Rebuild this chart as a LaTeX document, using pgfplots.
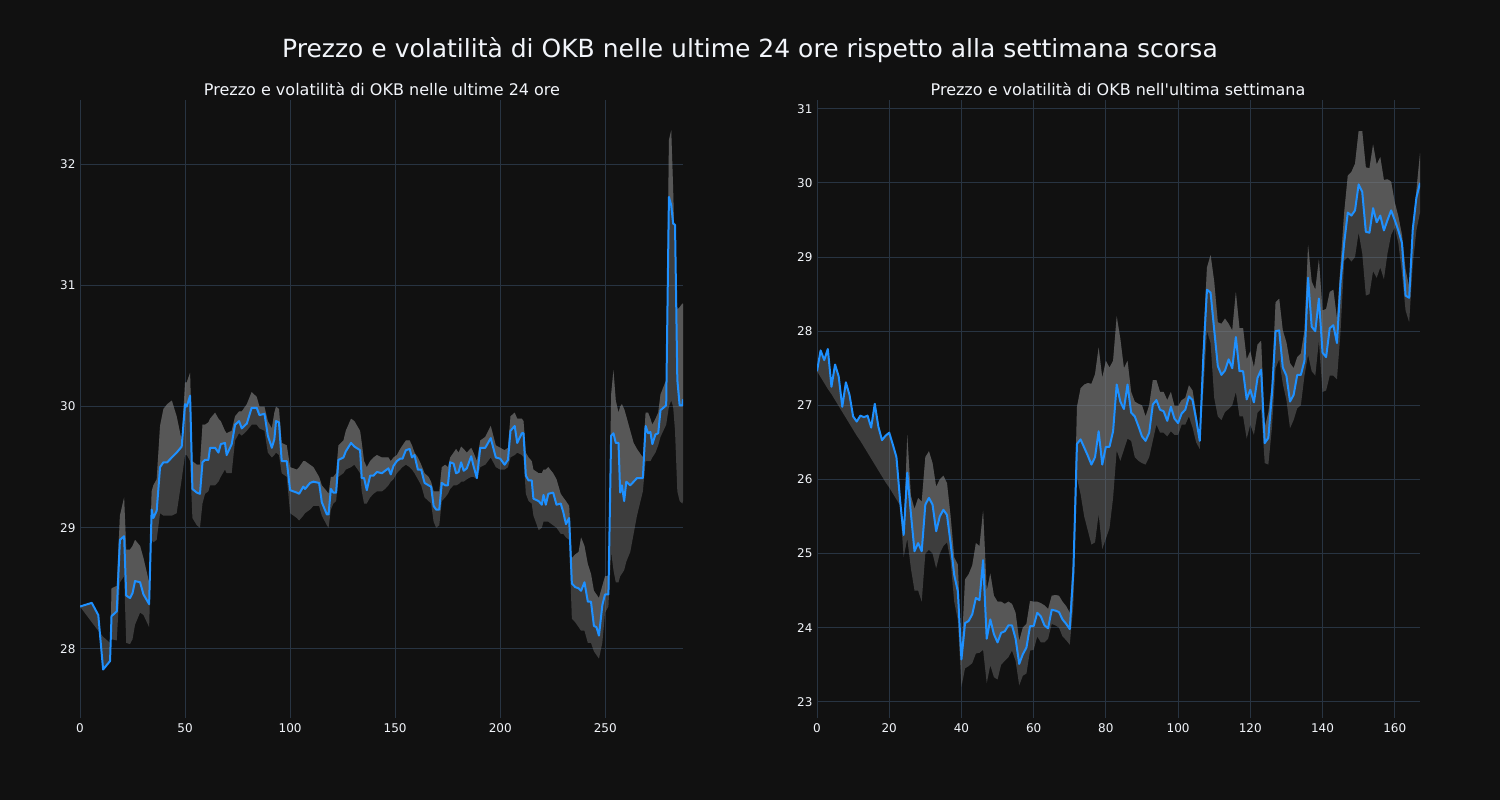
\documentclass[border=0pt]{standalone}
\usepackage{fontspec}
\setmainfont{DejaVu Sans}
\usepackage{xcolor}
\usepackage{pgfplots}
\usepackage{pgfplotstable}
\pgfplotsset{compat=1.18}
\usepgfplotslibrary{fillbetween}

\definecolor{bg}{HTML}{111111}
\definecolor{gridc}{HTML}{283442}
\definecolor{txt}{HTML}{F2F5FA}
\definecolor{okbline}{HTML}{1E90FF}
\definecolor{band}{HTML}{808080}
\pagecolor{bg}

% last 24 hours: x, price, upper band, lower band
\pgfplotstableread{
x p u l
0 28.35 28.35 28.35
5.6 28.38 28.38 28.22
8.7 28.28 28.28 28.15
11 27.83 27.83 28.10
14.3 27.90 27.90 28.05
15 28.27 28.50 28.08
17.5 28.31 28.52 28.07
19 28.90 29.10 28.55
21 28.93 29.25 28.60
22 28.44 28.82 28.05
23.8 28.42 28.82 28.04
25 28.46 28.85 28.08
26.2 28.56 28.90 28.20
28.6 28.55 28.85 28.30
30.2 28.45 28.75 28.28
32.9 28.37 28.55 28.18
34.1 29.15 29.30 28.90
34.9 29.08 29.35 28.88
36.5 29.14 29.40 28.90
38.1 29.50 29.84 29.12
39.7 29.54 29.98 29.10
41.5 29.54 30.02 29.10
43.7 29.58 30.05 29.10
46 29.62 29.92 29.12
48.4 29.67 29.72 29.40
50 30.02 30.20 29.60
50.8 30.00 30.20 29.60
52.4 30.09 30.28 29.55
53.5 29.32 29.55 29.08
55.6 29.29 29.52 29.02
57.1 29.28 29.52 29.00
58.3 29.54 29.85 29.20
59.5 29.56 29.85 29.28
61.1 29.56 29.87 29.30
61.9 29.66 29.90 29.35
64.3 29.66 29.95 29.35
65.9 29.62 29.90 29.38
67 29.69 29.88 29.42
69 29.70 29.80 29.48
69.8 29.60 29.78 29.45
72.2 29.69 29.80 29.45
73.8 29.85 29.92 29.72
75.7 29.88 29.96 29.78
77 29.82 29.96 29.76
79.4 29.86 30.02 29.80
81.7 29.99 30.12 29.85
84.1 29.99 30.08 29.85
85.4 29.93 30.00 29.82
87.8 29.94 30.00 29.80
89.4 29.76 29.88 29.62
91.3 29.66 29.82 29.58
92.5 29.73 29.95 29.60
93.3 29.88 30.00 29.62
94.7 29.87 29.98 29.60
96 29.55 29.70 29.45
98.4 29.55 29.68 29.42
100 29.31 29.50 29.12
103.2 29.29 29.48 29.08
104.3 29.28 29.50 29.06
106.3 29.34 29.55 29.10
107.1 29.32 29.55 29.12
109.5 29.37 29.52 29.15
111.1 29.38 29.50 29.18
113.8 29.37 29.42 29.18
115.1 29.21 29.35 29.10
117.5 29.11 29.30 29.02
118.3 29.11 29.28 29.00
119.4 29.32 29.42 29.15
120.6 29.29 29.42 29.20
121.9 29.29 29.45 29.22
123 29.56 29.68 29.42
125.4 29.58 29.72 29.45
126.5 29.63 29.80 29.48
129 29.70 29.90 29.50
130.6 29.67 29.88 29.52
133.3 29.64 29.80 29.45
134.1 29.41 29.70 29.30
135.2 29.41 29.55 29.20
136.5 29.31 29.50 29.20
138.1 29.43 29.55 29.25
139.7 29.43 29.58 29.28
141.3 29.46 29.60 29.30
143.7 29.45 29.58 29.30
145.2 29.47 29.58 29.32
146.8 29.49 29.58 29.35
147.9 29.44 29.55 29.38
149.2 29.51 29.58 29.40
150.8 29.55 29.60 29.45
152.4 29.57 29.65 29.48
153.5 29.57 29.68 29.50
155.1 29.64 29.72 29.52
156.9 29.65 29.72 29.50
158 29.58 29.68 29.48
159.2 29.60 29.62 29.45
160.8 29.48 29.58 29.40
162.4 29.48 29.52 29.35
164 29.37 29.45 29.25
165.9 29.35 29.42 29.22
167.1 29.34 29.38 29.20
168.3 29.18 29.30 29.05
169.5 29.15 29.30 29.00
171 29.15 29.30 29.02
172.2 29.37 29.50 29.22
173.8 29.35 29.52 29.25
175.1 29.35 29.50 29.28
176.2 29.54 29.58 29.32
177.8 29.53 29.62 29.35
179 29.45 29.65 29.35
180.2 29.46 29.62 29.36
181.4 29.54 29.67 29.38
182.6 29.47 29.65 29.38
184.1 29.49 29.62 29.40
186.2 29.59 29.66 29.42
187.3 29.51 29.62 29.42
188.9 29.41 29.55 29.40
190.5 29.66 29.72 29.50
192.9 29.66 29.75 29.52
195.5 29.74 29.84 29.58
197.9 29.58 29.68 29.50
200 29.57 29.66 29.48
202.1 29.52 29.64 29.48
203.7 29.56 29.66 29.50
204.9 29.80 29.92 29.58
206.9 29.84 29.95 29.60
208.1 29.70 29.90 29.62
210.3 29.78 29.90 29.60
211.1 29.78 29.88 29.58
212.2 29.43 29.62 29.28
213.5 29.39 29.58 29.22
215 29.39 29.55 29.20
215.8 29.24 29.48 29.10
218.3 29.22 29.45 28.98
219.8 29.19 29.45 29.00
220.6 29.27 29.48 29.05
221.7 29.19 29.48 29.05
222.9 29.28 29.50 29.05
225.2 29.29 29.45 29.02
226.8 29.19 29.40 29.00
228.8 29.20 29.28 28.95
230 29.13 29.25 28.95
231.3 29.03 29.22 28.92
232.8 29.08 29.18 28.90
234.1 28.54 28.75 28.25
235.7 28.51 28.78 28.22
237.3 28.50 28.80 28.18
238.5 28.48 28.92 28.15
240.1 28.55 28.85 28.15
241.7 28.39 28.70 28.05
243.2 28.39 28.62 28.05
244.6 28.19 28.48 27.98
245.8 28.18 28.45 27.95
247 28.11 28.42 27.92
248.6 28.36 28.52 28.05
249.9 28.45 28.60 28.30
251.5 28.45 28.60 28.35
252.8 29.76 30.10 28.80
253.9 29.78 30.30 28.65
255 29.70 30.05 28.55
256.3 29.70 29.95 28.55
257.1 29.29 30.00 28.60
257.9 29.35 30.02 28.62
259 29.22 29.98 28.65
260 29.38 29.92 28.72
261.9 29.35 29.80 28.80
263.5 29.38 29.70 28.95
265.1 29.41 29.65 29.10
267.9 29.41 29.58 29.30
269.2 29.84 29.95 29.55
270.4 29.78 29.95 29.55
271.5 29.79 29.90 29.55
272.4 29.69 29.85 29.58
273.9 29.77 29.90 29.62
275.2 29.78 29.95 29.68
276.3 29.97 30.10 29.75
279 30.01 30.22 29.85
280.3 31.73 32.20 30.00
281.4 31.66 32.28 30.05
282.3 31.51 31.80 30.00
283.2 31.50 31.20 29.80
284.3 30.22 30.80 29.30
285.4 30.01 30.82 29.22
286.7 30.01 30.85 29.20
287 30.06 30.85 29.22
}\dayTable

% last week: x, price, upper band, lower band
\pgfplotstableread{
x p u l
0 27.46 27.46 27.46
1 27.74 27.74 27.38
2 27.61 27.61 27.30
3 27.76 27.76 27.22
4 27.25 27.25 27.15
5 27.55 27.55 27.07
6 27.39 27.39 26.99
7 26.98 26.98 26.91
8 27.31 27.31 26.83
9 27.14 27.14 26.75
10 26.85 26.85 26.67
11 26.78 26.78 26.59
12 26.86 26.86 26.52
13 26.84 26.84 26.44
14 26.86 26.86 26.36
15 26.70 26.70 26.28
16 27.02 27.02 26.20
17 26.71 26.71 26.12
18 26.53 26.53 26.04
19 26.59 26.59 25.96
20 26.63 26.63 25.89
21 26.47 26.47 25.81
22 26.30 26.30 25.73
23 25.72 25.72 25.65
24 25.25 25.25 24.95
25 26.09 26.60 25.20
26 25.54 25.78 24.80
27 25.03 25.60 24.50
28 25.14 25.75 24.50
29 25.03 25.70 24.35
30 25.66 26.30 25.00
31 25.75 26.38 25.05
32 25.66 26.22 25.00
33 25.30 25.90 24.80
34 25.50 26.00 25.00
35 25.59 26.05 25.10
36 25.52 25.95 25.15
37 25.14 25.50 24.90
38 24.71 24.95 24.35
39 24.49 24.85 24.10
40 23.57 23.65 23.20
41 24.06 24.65 23.45
42 24.09 24.72 23.48
43 24.18 24.84 23.52
44 24.40 25.14 23.65
45 24.37 25.10 23.66
46 24.91 25.58 23.70
47 23.85 24.50 23.25
48 24.11 24.73 23.49
49 23.91 24.43 23.33
50 23.80 24.35 23.30
51 23.93 24.35 23.50
52 23.95 24.32 23.55
53 24.03 24.35 23.60
54 24.03 24.32 23.69
55 23.85 24.20 23.55
56 23.51 23.82 23.22
57 23.64 24.00 23.35
58 23.73 24.05 23.38
59 24.02 24.36 23.69
60 24.02 24.35 23.70
61 24.20 24.35 23.88
62 24.15 24.33 23.80
63 24.03 24.30 23.80
64 23.99 24.25 23.85
65 24.24 24.43 24.05
66 24.23 24.44 24.03
67 24.21 24.43 24.00
68 24.11 24.35 23.88
69 24.05 24.29 23.83
70 23.98 24.20 23.77
71 24.76 25.00 24.30
72 26.48 26.98 26.02
73 26.54 27.23 25.80
74 26.43 27.28 25.50
75 26.32 27.30 25.31
76 26.20 27.29 25.12
77 26.30 27.42 25.15
78 26.65 27.78 25.53
79 26.20 27.37 25.06
80 26.44 27.60 25.20
81 26.44 27.51 25.34
82 26.65 27.60 25.75
83 27.28 28.20 26.39
84 27.05 27.90 26.25
85 26.95 27.50 26.40
86 27.28 27.60 26.55
87 26.90 27.18 26.52
88 26.85 27.05 26.30
89 26.72 27.02 26.25
90 26.58 27.00 26.22
91 26.52 26.85 26.20
92 26.63 27.00 26.30
93 27.01 27.34 26.52
94 27.07 27.34 26.74
95 26.94 27.18 26.63
96 26.92 27.18 26.63
97 26.79 27.07 26.58
98 26.98 27.18 26.65
99 26.82 26.99 26.60
100 26.76 26.99 26.60
101 26.89 27.07 26.74
102 26.94 27.10 26.74
103 27.12 27.27 26.85
104 27.07 27.20 26.70
105 26.81 26.90 26.50
106 26.52 26.58 26.41
107 27.66 27.90 27.20
108 28.56 28.86 28.00
109 28.52 29.03 27.84
110 28.02 28.67 27.10
111 27.53 28.12 26.85
112 27.41 28.10 26.80
113 27.47 28.17 26.91
114 27.62 28.10 26.95
115 27.50 28.01 27.00
116 27.92 28.53 27.18
117 27.46 28.04 26.85
118 27.46 28.04 26.85
119 27.08 27.62 26.55
120 27.21 27.73 26.74
121 27.04 27.51 26.60
122 27.37 27.82 26.90
123 27.48 27.87 26.95
124 26.49 26.70 26.22
125 26.56 26.90 26.20
126 27.16 27.30 26.70
127 28.00 28.39 27.50
128 28.01 28.44 27.62
129 27.51 28.01 27.29
130 27.40 27.85 27.07
131 27.05 27.57 26.69
132 27.14 27.50 26.80
133 27.41 27.65 26.96
134 27.41 27.70 27.00
135 27.60 28.01 27.40
136 28.72 29.16 27.68
137 28.06 28.67 27.46
138 28.00 28.56 27.40
139 28.44 28.97 27.87
140 27.71 28.28 27.18
141 27.65 28.30 27.20
142 28.04 28.53 27.40
143 28.08 28.56 27.40
144 27.84 28.17 27.35
145 28.67 28.90 28.00
146 29.19 29.60 28.95
147 29.60 30.10 29.00
148 29.56 30.15 28.94
149 29.63 30.26 29.00
150 29.98 30.70 29.33
151 29.88 30.70 29.05
152 29.34 30.21 28.48
153 29.33 30.20 28.50
154 29.66 30.52 28.81
155 29.47 30.25 28.72
156 29.56 30.35 28.86
157 29.36 30.04 28.70
158 29.50 30.05 29.05
159 29.63 30.02 29.30
160 29.50 29.74 29.40
161 29.36 29.55 29.19
162 29.19 29.30 28.78
163 28.48 28.83 28.28
164 28.45 28.60 28.12
165 29.38 29.40 28.90
166 29.80 29.90 29.36
167 30.00 30.40 29.60
}\weekTable

\pgfplotsset{okb/.style={
    scale only axis, width=603pt, height=618pt, anchor=south west,
    axis line style={draw=none}, tick style={draw=none},
    grid=major, major grid style={gridc, line width=1pt},
    ticklabel style={font=\fontsize{12}{14}\selectfont, text=txt},
    /pgf/number format/assume math mode=true,
    yticklabel style={xshift=-1pt}, xticklabel style={yshift=-2pt},
}}

\begin{document}
\begin{tikzpicture}
\path (0,0) rectangle (1500pt,800pt);

\begin{axis}[okb, at={(80pt,82pt)},
    xmin=0, xmax=287, ymin=27.43, ymax=32.53,
    xtick={0,50,...,250}, ytick={28,29,30,31,32}]
  \addplot[draw=none, name path=du] table[x=x, y=u] {\dayTable};
  \addplot[draw=none, name path=dp] table[x=x, y=p] {\dayTable};
  \addplot[draw=none, name path=dl] table[x=x, y=l] {\dayTable};
  \addplot[band, fill opacity=0.4, draw=none] fill between[of=du and dl];
  \addplot[band, fill opacity=0.4, draw=none] fill between[of=du and dp];
  \addplot[okbline, line width=2pt, line join=round] table[x=x, y=p] {\dayTable};
\end{axis}

\begin{axis}[okb, at={(817pt,82pt)},
    xmin=0, xmax=167, ymin=22.78, ymax=31.12,
    xtick={0,20,...,160}, ytick={23,24,...,31}]
  \addplot[draw=none, name path=wu] table[x=x, y=u] {\weekTable};
  \addplot[draw=none, name path=wp] table[x=x, y=p] {\weekTable};
  \addplot[draw=none, name path=wl] table[x=x, y=l] {\weekTable};
  \addplot[band, fill opacity=0.4, draw=none] fill between[of=wu and wl];
  \addplot[band, fill opacity=0.4, draw=none] fill between[of=wu and wp];
  \addplot[okbline, line width=2pt, line join=round] table[x=x, y=p] {\weekTable};
\end{axis}

\node[text=txt, font=\fontsize{25}{30}\selectfont] at (750pt,750pt)
  {Prezzo e volatilità di OKB nelle ultime 24 ore rispetto alla settimana scorsa};
\node[text=txt, font=\fontsize{16}{19}\selectfont] at (382pt,711pt)
  {Prezzo e volatilità di OKB nelle ultime 24 ore};
\node[text=txt, font=\fontsize{16}{19}\selectfont] at (1118pt,711pt)
  {Prezzo e volatilità di OKB nell\textquotesingle ultima settimana};
\end{tikzpicture}
\end{document}
